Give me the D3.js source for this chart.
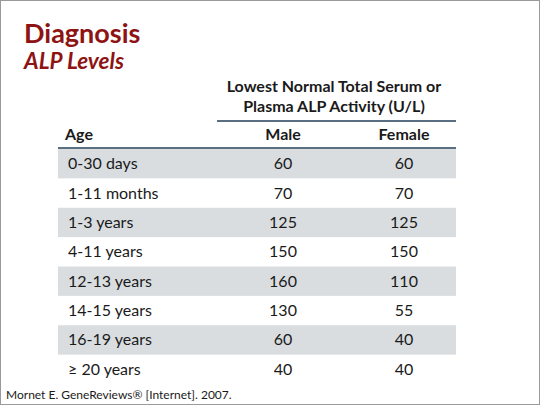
<!DOCTYPE html>
<html>
<head>
<meta charset="utf-8">
<script src="https://cdn.jsdelivr.net/npm/d3@7"></script>
<style>
  body { margin: 0; background: #fff; }
  text { font-family: Lato, "Open Sans", sans-serif; }
</style>
</head>
<body>
<div class="canvas"></div>
<script>
const ages = ["0-30 days", "1-11 months", "1-3 years", "4-11 years", "12-13 years", "14-15 years", "16-19 years", "≥ 20 years"];
const male = [60, 70, 125, 150, 160, 130, 60, 40];
const female = [60, 70, 125, 150, 110, 55, 40, 40];
const columns = ["Male", "Female"];

const width = 540, height = 405;
const svg = d3.select(".canvas").append("svg")
  .attr("width", width).attr("height", height);

// frame
svg.append("rect").attr("x", 0.5).attr("y", 0.5)
  .attr("width", width - 1).attr("height", height - 1)
  .attr("fill", "none").attr("stroke", "#9a9a9a");

// title
svg.append("text").attr("x", 24).attr("y", 43)
  .attr("font-size", 27).attr("font-weight", 700).attr("fill", "#8e1414")
  .text("Diagnosis");
svg.append("text").attr("x", 24).attr("y", 69)
  .attr("font-size", 22.5).attr("font-weight", 700).attr("font-style", "italic")
  .attr("fill", "#8e1414").text("ALP Levels");

const tableLeft = 58, tableRight = 456;
//scales
const y = d3.scaleBand().domain(ages).range([149, 384]);
const x = d3.scalePoint().domain(columns).range([283, 404]);

// shaded rows
svg.selectAll("rect.row").data(ages.filter((d, i) => i % 2 === 0))
  .enter().append("rect").attr("class", "row")
  .attr("x", tableLeft).attr("width", tableRight - tableLeft)
  .attr("y", d => y(d)).attr("height", y.bandwidth())
  .attr("fill", "#d9dde0");

const fs = 16;
// header
svg.append("text").attr("x", 334).attr("y", 92).attr("text-anchor", "middle")
  .attr("font-size", fs).attr("font-weight", 700).attr("fill", "#1a1a1a")
  .text("Lowest Normal Total Serum or");
svg.append("text").attr("x", 334).attr("y", 112).attr("text-anchor", "middle")
  .attr("font-size", fs).attr("font-weight", 700).attr("fill", "#1a1a1a")
  .text("Plasma ALP Activity (U/L)");
svg.append("line").attr("x1", 217).attr("x2", tableRight)
  .attr("y1", 121).attr("y2", 121).attr("stroke", "#243f5a").attr("stroke-width", 1.5);
svg.append("text").attr("x", 65).attr("y", 140)
  .attr("font-size", fs).attr("font-weight", 700).attr("fill", "#1a1a1a").text("Age");
svg.selectAll("text.col").data(columns).enter().append("text")
  .attr("class", "col").attr("x", d => x(d)).attr("y", 140)
  .attr("text-anchor", "middle").attr("font-size", fs).attr("font-weight", 700)
  .attr("fill", "#1a1a1a").text(d => d);
svg.append("line").attr("x1", tableLeft).attr("x2", tableRight)
  .attr("y1", 148).attr("y2", 148).attr("stroke", "#243f5a").attr("stroke-width", 1.5);

// body
const rows = svg.selectAll("g.r").data(ages).enter().append("g")
  .attr("transform", d => `translate(0,${y(d) + y.bandwidth() / 2 + 5.5})`);
rows.append("text").attr("x", 68).attr("font-size", fs).attr("fill", "#1a1a1a")
  .text(d => d);
rows.append("text").attr("x", x("Male")).attr("text-anchor", "middle")
  .attr("font-size", fs).attr("fill", "#1a1a1a").text((d, i) => male[i]);
rows.append("text").attr("x", x("Female")).attr("text-anchor", "middle")
  .attr("font-size", fs).attr("fill", "#1a1a1a").text((d, i) => female[i]);

// source
svg.append("text").attr("x", 6).attr("y", 399)
  .attr("font-size", 12).attr("fill", "#1a1a1a")
  .text("Mornet E. GeneReviews® [Internet]. 2007.");
</script>
</body>
</html>
